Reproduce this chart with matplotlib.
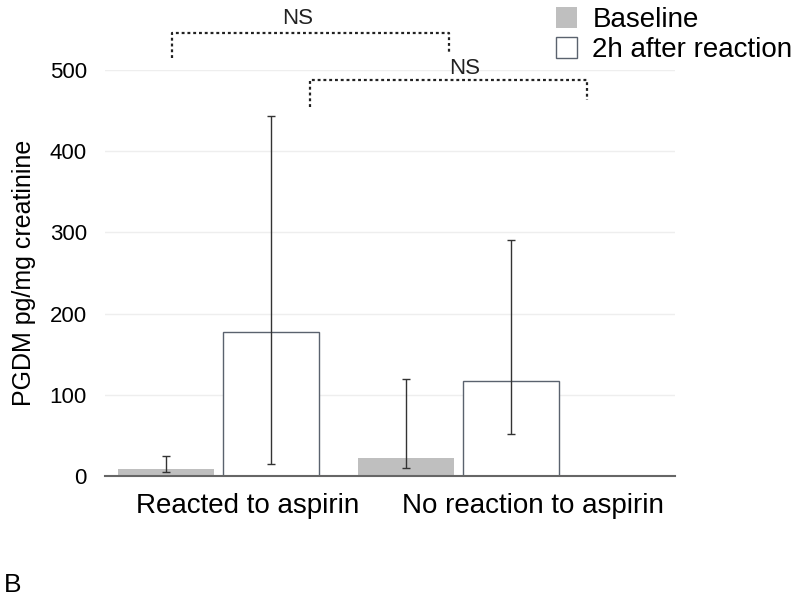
import numpy as np
import matplotlib.pyplot as plt
from matplotlib.patches import Patch

plt.rcParams['font.family'] = ['Liberation Sans', 'DejaVu Sans']

# data
groups = ['Reacted to aspirin', 'No reaction to aspirin']
series = ['Baseline', '2h after reaction']
baseline = [9, 22]
baseline_lo = [5, 10]
baseline_hi = [25, 120]
after = [177, 117]
after_lo = [15, 52]
after_hi = [443, 291]
yticks = [0, 100, 200, 300, 400, 500]

x = np.arange(len(groups))
w = 0.40
off = 0.22
edge = '#5a626e'
label_shift = np.array([0.12, 0.31])  # category labels sit right of the groups in the original

fig = plt.figure(figsize=(8, 5.98), dpi=100)
ax = fig.add_axes([0.131, 0.204, 0.713, 0.679])

b = np.array(baseline)
a = np.array(after)
ax.bar(x - off, b, w, color='#bfbfbf', edgecolor='none', zorder=2)
ax.errorbar(x - off, b, yerr=[b - np.array(baseline_lo), np.array(baseline_hi) - b],
            fmt='none', ecolor='#333333', elinewidth=1, capsize=3, capthick=1, zorder=3)
ax.bar(x + off, a, w, color='white', edgecolor=edge, linewidth=1, zorder=2)
ax.errorbar(x + off, a, yerr=[a - np.array(after_lo), np.array(after_hi) - a],
            fmt='none', ecolor='#333333', elinewidth=1, capsize=3, capthick=1, zorder=3)

ax.set_xlim(-0.473, 1.902)
ax.set_ylim(0, 500)
ax.set_yticks(yticks)
ax.set_xticks(x + label_shift)
ax.set_xticklabels(groups)
ax.tick_params(axis='both', length=0)
ax.tick_params(axis='x', pad=12, labelsize=20)
ax.tick_params(axis='y', pad=13, labelsize=16)
ax.grid(axis='y', color='#eeeeee', linewidth=1, zorder=0)
ax.set_axisbelow(True)
for s in ['top', 'right', 'left']:
    ax.spines[s].set_visible(False)
ax.spines['bottom'].set_color('#666666')
ax.spines['bottom'].set_linewidth(1.5)
ax.set_ylabel('PGDM pg/mg creatinine', fontsize=18, labelpad=10)

# significance brackets
ax.plot([-0.194, -0.194, 0.96, 0.96], [515, 546, 546, 521], ls=(0, (1.3, 1.3)),
        color='#222222', lw=1.6, clip_on=False)
ax.text(0.331, 556, 'NS', ha='center', va='baseline', fontsize=16, color='#222222')
ax.plot([0.381, 0.381, 1.535, 1.535], [454, 488, 488, 463], ls=(0, (1.3, 1.3)),
        color='#222222', lw=1.6, clip_on=False)
ax.text(1.027, 495, 'NS', ha='center', va='baseline', fontsize=16, color='#222222')

handles = [Patch(facecolor='#bfbfbf', edgecolor='none'),
           Patch(facecolor='white', edgecolor=edge, linewidth=1)]
fig.legend(handles, series, loc='upper left', bbox_to_anchor=(0.664, 1.03), frameon=False,
           fontsize=20, handlelength=0.75, handleheight=0.75, handletextpad=0.55,
           labelspacing=0.15)

fig.text(0.005, 0.01, 'B', fontsize=19)

fig.savefig('out.png', dpi=100)
